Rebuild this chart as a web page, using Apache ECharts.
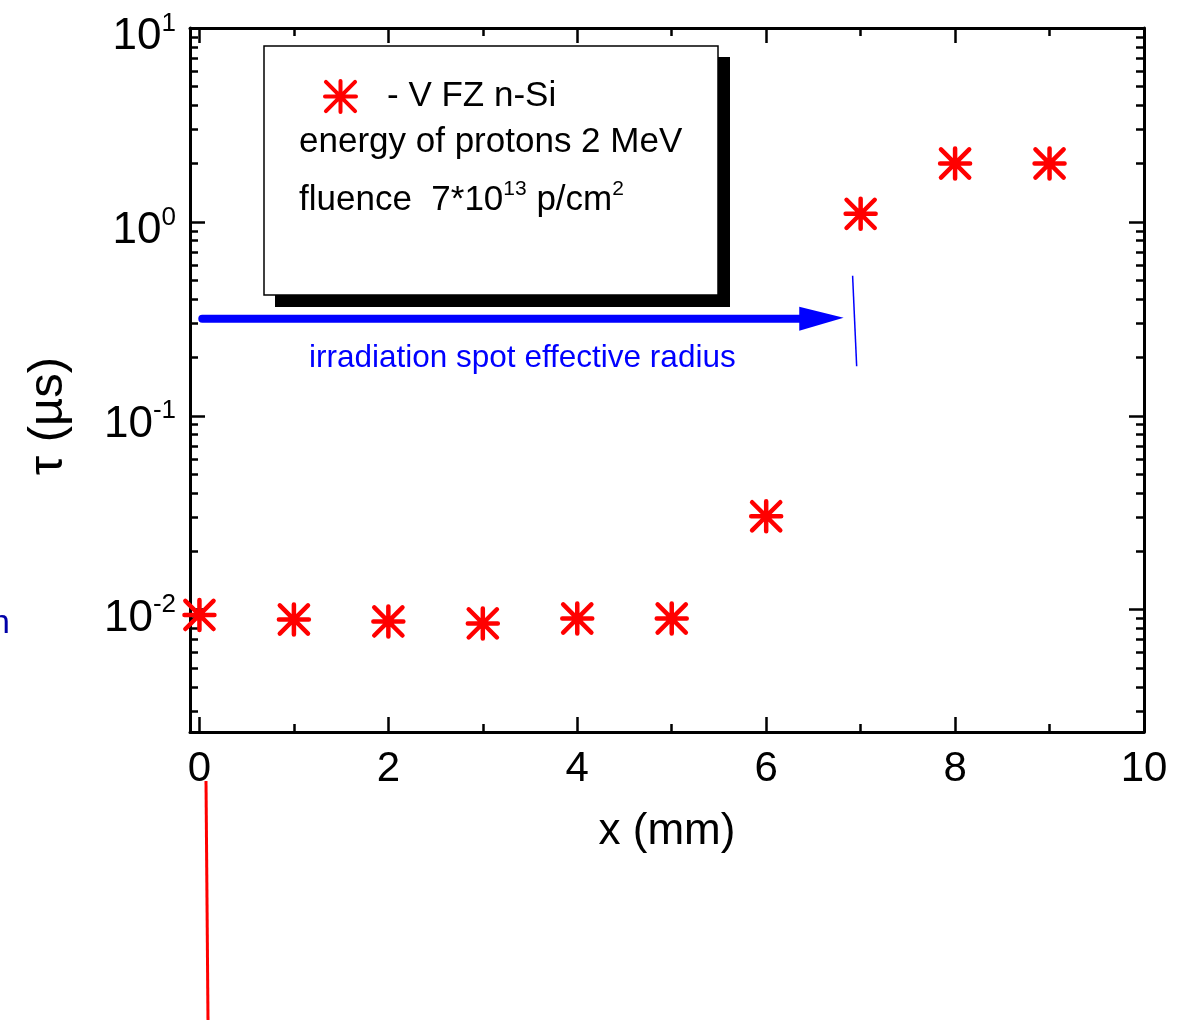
<!DOCTYPE html>
<html>
<head>
<meta charset="utf-8">
<script src="https://cdn.jsdelivr.net/npm/echarts@6/dist/echarts.min.js"></script>
<style>html,body{margin:0;padding:0;background:#fff;}#main{width:1182px;height:1020px;}</style>
</head>
<body>
<div id="main"></div>
<script>
// ---- data ----
const xPositions = [0, 1, 2, 3, 4, 5, 6, 7, 8, 9];
const tauValues = [0.0094, 0.0089, 0.0087, 0.0085, 0.0090, 0.0090, 0.0303, 1.10, 2.0, 2.0];
const seriesName = '- V FZ n-Si';
const xMajorTicks = [0, 2, 4, 6, 8, 10];
const xMinorTicks = [1, 3, 5, 7, 9];
const yDecadeExponents = [-2, -1, 0, 1];
const xRange = [-0.1, 10];
const yRange = [0.00234, 10];

const FONT = '"Liberation Sans", Arial, Helvetica, sans-serif';
const yMinLog = Math.log10(yRange[0]);
const yMaxLog = Math.log10(yRange[1]);
const yMinorLog = [];
for (let n = -3; n <= 0; n++) {
  for (let k = 2; k <= 9; k++) {
    const v = n + Math.log10(k);
    if (v > yMinLog && v < yMaxLog) yMinorLog.push(v);
  }
}

const star = 'path://M1,0L1,2M0,1L2,1M0.06,0.06L1.94,1.94M0.06,1.94L1.94,0.06';
const lineStyle = { color: '#000', width: 3 };

function xAx(pos, ticks, len, showLine, labels) {
  return {
    type: 'value', position: pos, min: xRange[0], max: xRange[1],
    axisLine: { show: showLine, onZero: false, lineStyle: lineStyle },
    axisTick: { show: true, inside: true, length: len, customValues: ticks, lineStyle: { color: '#000', width: 2.5 } },
    axisLabel: labels ? { show: true, customValues: xMajorTicks, fontSize: 42, color: '#000', fontFamily: FONT, margin: 16 } : { show: false },
    splitLine: { show: false }
  };
}
function yAx(pos, ticks, len, showLine, labels) {
  return {
    type: 'value', position: pos, min: yMinLog, max: yMaxLog,
    axisLine: { show: showLine, onZero: false, lineStyle: lineStyle },
    axisTick: { show: true, inside: true, length: len, customValues: ticks, lineStyle: { color: '#000', width: 2.5 } },
    axisLabel: labels ? {
      show: true, customValues: yDecadeExponents, margin: 14, color: '#000', fontFamily: FONT,
      padding: [18, 0, 0, 0],
      formatter: v => '{b|10}{s|' + Math.round(v) + '}',
      rich: {
        b: { fontSize: 44, lineHeight: 53, fontFamily: FONT, color: '#000' },
        s: { fontSize: 26, lineHeight: 20, verticalAlign: 'top', fontFamily: FONT, color: '#000' }
      }
    } : { show: false },
    splitLine: { show: false }
  };
}

const chart = echarts.init(document.getElementById('main'), null, { renderer: 'canvas' });
const xAxes = [
  xAx('bottom', xMajorTicks, 15, true, true),
  xAx('bottom', xMinorTicks, 8, false, false),
  xAx('top', xMajorTicks, 15, true, false),
  xAx('top', xMinorTicks, 8, false, false)
];
xAxes[0].name = 'x (mm)';
xAxes[0].nameLocation = 'middle';
xAxes[0].nameGap = 78;
xAxes[0].nameTextStyle = { fontSize: 44, color: '#000', fontFamily: FONT };

const option = {
  backgroundColor: '#fff',
  animation: false,
  grid: { left: 190, right: 38, top: 28, bottom: 288, containLabel: false },
  xAxis: xAxes,
  yAxis: [
    yAx('left', yDecadeExponents, 15, true, true),
    yAx('left', yMinorLog, 8, false, false),
    yAx('right', yDecadeExponents, 15, true, false),
    yAx('right', yMinorLog, 8, false, false)
  ],
  legend: {
    show: true, left: 323, top: 79, padding: 0, itemWidth: 31, itemHeight: 31, orient: 'vertical',
    data: [seriesName],
    itemStyle: { color: '#ff0000', borderColor: '#ff0000', borderWidth: 4, borderCap: 'round' },
    formatter: n => '{g|}{t|' + n + '}',
    textStyle: {
      color: '#000', fontFamily: FONT, fontSize: 35,
      rich: { g: { width: 26 }, t: { fontSize: 35, fontFamily: FONT, color: '#000' } }
    }
  },
  series: [{
    name: seriesName,
    type: 'scatter',
    symbol: star,
    symbolSize: 30,
    data: xPositions.map((x, i) => [x, Math.log10(tauValues[i])]),
    itemStyle: { color: '#ff0000', borderColor: '#ff0000', borderWidth: 4.5, borderCap: 'round', opacity: 1 },
    emphasis: { disabled: true },
    z: 5
  }]
};
chart.setOption(option);

// ---- annotations (positions given in data space where inside the plot) ----
const arrowY = 0.317, arrowStartX = 0.03, arrowShaftEndX = 6.35, arrowTipX = 6.82;
const spotLine = [[6.915, 0.527], [6.958, 0.18]];
const spotLabel = { x: 1.16, y: 0.197, text: 'irradiation spot effective radius' };
const P = (x, v) => chart.convertToPixel({ xAxisIndex: 0, yAxisIndex: 0 }, [x, Math.log10(v)]);

const a0 = P(arrowStartX, arrowY), a1 = P(arrowShaftEndX, arrowY), a2 = P(arrowTipX, arrowY);
const s0 = P(spotLine[0][0], spotLine[0][1]), s1 = P(spotLine[1][0], spotLine[1][1]);
const tl = P(spotLabel.x, spotLabel.y);

chart.setOption({
  graphic: [
    // legend box with drop shadow
    { type: 'rect', shape: { x: 275, y: 57, width: 455, height: 250 }, style: { fill: '#000' }, z: 1 },
    { type: 'rect', shape: { x: 264, y: 46, width: 454, height: 249 }, style: { fill: '#fff', stroke: '#000', lineWidth: 1.5 }, z: 2 },
    { type: 'text', x: 299, y: 142, z: 3,
      style: { text: 'energy of protons 2 MeV', fill: '#000', fontSize: 35, fontFamily: FONT, align: 'left', verticalAlign: 'middle', textAlign: 'left', textVerticalAlign: 'middle' } },
    { type: 'text', x: 299, y: 200, z: 3,
      style: { text: '{t|fluence  7*10}{s|13}{t| p/cm}{s|2}', fill: '#000', align: 'left', verticalAlign: 'middle', textAlign: 'left', textVerticalAlign: 'middle',
        rich: { t: { fontSize: 35, lineHeight: 42, fontFamily: FONT, fill: '#000' }, s: { fontSize: 21, lineHeight: 20, verticalAlign: 'top', fontFamily: FONT, fill: '#000' } } } },
    // blue arrow
    { type: 'line', shape: { x1: a0[0], y1: a0[1], x2: a1[0] + 4, y2: a1[1] }, style: { stroke: '#0000ff', lineWidth: 8, lineCap: 'round' }, z: 4 },
    { type: 'polygon', shape: { points: [[a1[0], a1[1] - 12], [a2[0], a2[1] - 1], [a1[0], a1[1] + 12]] }, style: { fill: '#0000ff' }, z: 4 },
    { type: 'line', shape: { x1: s0[0], y1: s0[1], x2: s1[0], y2: s1[1] }, style: { stroke: '#0000ff', lineWidth: 1.5 }, z: 4 },
    { type: 'text', x: tl[0], y: tl[1], z: 4,
      style: { text: spotLabel.text, fill: '#0000ff', fontSize: 31.5, fontFamily: FONT, align: 'left', verticalAlign: 'middle', textAlign: 'left', textVerticalAlign: 'middle' } },
    // y axis title
    { type: 'text', x: 48, y: 416, rotation: Math.PI / 2, z: 4,
      style: { text: 'τ (µs)', fill: '#000', fontSize: 49, fontFamily: FONT, align: 'center', verticalAlign: 'middle', textAlign: 'center', textVerticalAlign: 'middle' } },
    // stray elements outside the plot
    { type: 'line', shape: { x1: 206, y1: 781, x2: 208, y2: 1020 }, style: { stroke: '#ff0000', lineWidth: 3 }, z: 4 },
    { type: 'text', x: -9, y: 624, z: 4,
      style: { text: 'n', fill: '#0000a8', fontSize: 34, fontFamily: FONT, align: 'left', verticalAlign: 'middle', textAlign: 'left', textVerticalAlign: 'middle' } }
  ]
});
</script>
</body>
</html>
